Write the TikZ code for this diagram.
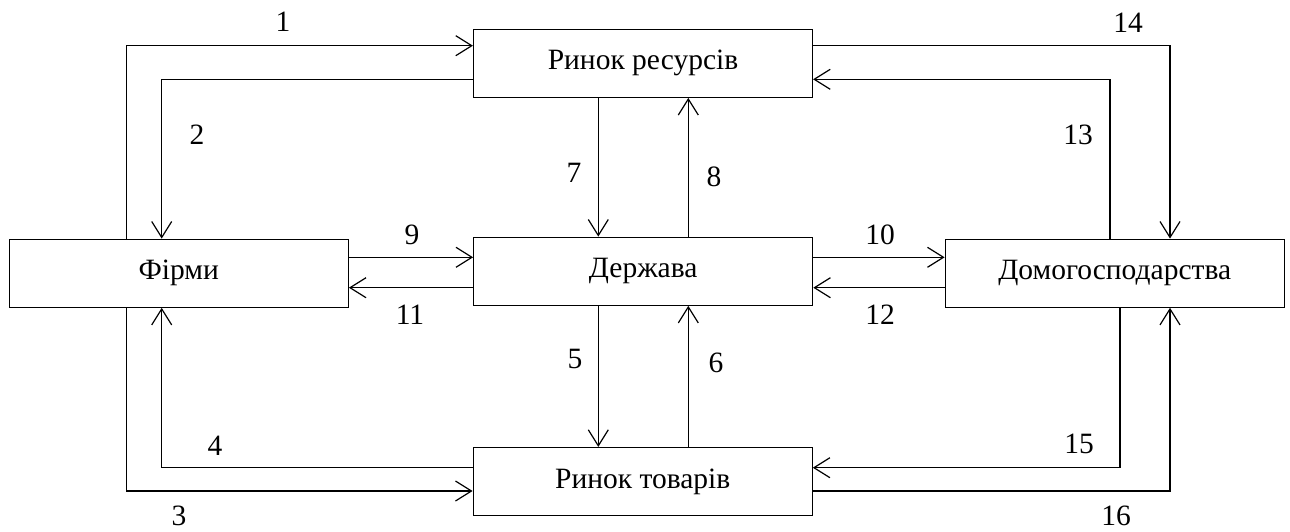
\documentclass[tikz,border=0pt]{standalone}
\usepackage{fontspec}
\setmainfont{Liberation Serif}
\usetikzlibrary{arrows.meta,calc}
\begin{document}
\begin{tikzpicture}[x=1pt,y=-1pt,
  box/.style={draw,line width=1.2pt,minimum width=339pt,minimum height=68pt,inner sep=0pt,font=\fontsize{29.5}{34}\selectfont},
  lbl/.style={inner sep=0pt,font=\fontsize{29.5}{34}\selectfont},
  arr/.style={line width=1.2pt,-{Straight Barb[length=16pt,width=20pt]}}]
\useasboundingbox (0,0) rectangle (1290,531);
\fill[white] (0,0) rectangle (1290,531);
\node[box] (rr) at (643,63.3) {Ринок ресурсів};
\node[box] (f) at (178.8,273.2) {Фірми};
\node[box] (d) at (643.2,271.2) {Держава};
\node[box] (h) at (1114.7,273.2) {Домогосподарства};
\node[box] (rt) at (642.7,481.5) {Ринок товарів};
% 1,2
\draw[arr] ($(f.north)+(-52.3,0)$) |- ($(rr.west)+(0,-17.6)$);
\draw[arr] ($(rr.west)+(0,16.2)$) -| ($(f.north)+(-17.1,0)$);
% 3,4
\draw[arr] ($(f.south)+(-52.3,0)$) |- ($(rt.west)+(0,9.5)$);
\draw[arr] ($(rt.west)+(0,-13.8)$) -| ($(f.south)+(-17.1,0)$);
% 9,11
\draw[arr] ($(f.east)+(0,-15.9)$) coordinate (a9) -- (a9 -| d.west);
\draw[arr] ($(d.west)+(0,16.5)$) coordinate (a11) -- (a11 -| f.east);
% 10,12
\draw[arr] ($(d.east)+(0,-13.9)$) coordinate (a10) -- (a10 -| h.west);
\draw[arr] ($(h.west)+(0,14.5)$) coordinate (a12) -- (a12 -| d.east);
% 14,13
\draw[arr] ($(rr.east)+(0,-17.6)$) -| ($(h.north)+(55.3,0)$);
\draw[arr] ($(h.north)+(-4.7,0)$) |- ($(rr.east)+(0,16)$);
% 15,16
\draw[arr] ($(h.south)+(5.3,0)$) |- ($(rt.east)+(0,-13.8)$);
\draw[arr] ($(rt.east)+(0,9.5)$) -| ($(h.south)+(55.3,0)$);
% 7,8
\draw[arr] ($(rr.south)+(-44.7,0)$) coordinate (a7) -- (a7 |- d.north);
\draw[arr] ($(d.north)+(45.1,0)$) coordinate (a8) -- (a8 |- rr.south);
% 5,6
\draw[arr] ($(d.south)+(-44.9,0)$) coordinate (a5) -- (a5 |- rt.north);
\draw[arr] ($(rt.north)+(45.6,0)$) coordinate (a6) -- (a6 |- d.south);
% labels
\node[lbl] (l1) at (283,22) {1};
\node[lbl] (l2) at (197,135) {2};
\node[lbl] (l3) at (179,516) {3};
\node[lbl] (l4) at (215,446) {4};
\node[lbl] (l5) at (575,359) {5};
\node[lbl] (l6) at (716,363) {6};
\node[lbl] (l7) at (574,173) {7};
\node[lbl] (l8) at (714,177) {8};
\node[lbl] (l9) at (412,235) {9};
\node[lbl] (l10) at (880,235) {10};
\node[lbl] (l11) at (410,315) {11};
\node[lbl] (l12) at (880,315) {12};
\node[lbl] (l13) at (1078,135) {13};
\node[lbl] (l14) at (1128,23) {14};
\node[lbl] (l15) at (1079,444) {15};
\node[lbl] (l16) at (1116,516) {16};
\end{tikzpicture}
\end{document}
